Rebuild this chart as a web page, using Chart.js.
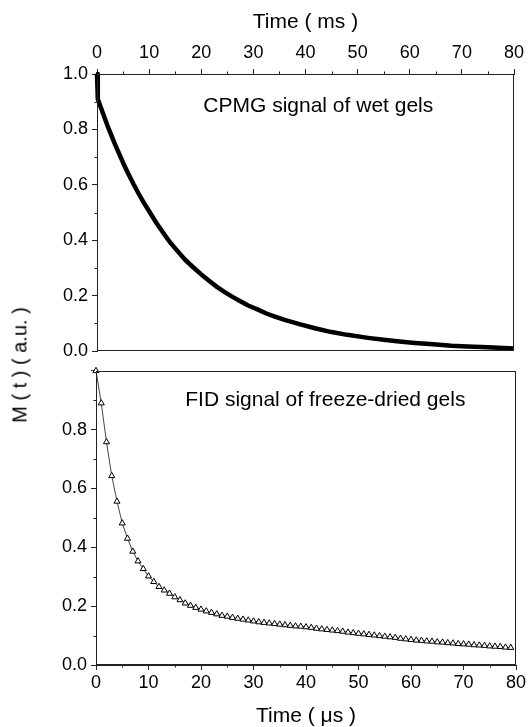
<!DOCTYPE html>
<html>
<head>
<meta charset="utf-8">
<script src="https://cdn.jsdelivr.net/npm/chart.js@4.4.0/dist/chart.umd.min.js"></script>
<style>
  body { margin: 0; width: 530px; height: 727px; background: #fff; position: relative; overflow: hidden; }
  #cTop { position: absolute; left: 0; top: 0; }
  #cBot { position: absolute; left: 0; top: 356px; }
  #ytitle { position: absolute; left: 20px; top: 365px; transform: translate(-50%, -50%) rotate(-90deg);
            font: 20px "Liberation Sans", Arial, sans-serif; white-space: nowrap; color: #000; }
</style>
</head>
<body>
<canvas id="cTop" width="530" height="366"></canvas>
<canvas id="cBot" width="530" height="371"></canvas>
<div id="ytitle">M ( t ) ( a.u. )</div>
<script>
// CPMG signal of wet gels, time in ms
var cpmgTime = [0, 0.15, 1, 2, 3.5, 5, 6, 7, 8, 9, 10, 11.5, 13, 14, 15.5, 17, 18.5, 20, 21.5, 23, 24.5, 26, 27.5, 29, 31, 32.5, 34, 36,
  39, 42, 45, 48, 52, 55, 58, 61, 64.5, 68, 71, 75, 80];
var cpmgSignal = [1.0, 0.91, 0.866, 0.814, 0.744, 0.680, 0.640, 0.603, 0.568, 0.535, 0.505, 0.460, 0.419, 0.393, 0.360, 0.328, 0.302, 0.277,
  0.254, 0.232, 0.213, 0.196, 0.180, 0.165, 0.149, 0.136, 0.126, 0.113,
  0.097, 0.082, 0.069, 0.059, 0.048, 0.041, 0.035, 0.030, 0.025, 0.020, 0.017, 0.014, 0.010];

// FID signal of freeze-dried gels, time in us
var fidTime = [0, 1, 2, 3, 4, 5, 6, 7, 8, 9, 10, 11, 12, 13, 14, 15, 16, 17, 18, 19,
  20, 21, 22, 23, 24, 25, 26, 27, 28, 29, 30, 31, 32, 33, 34, 35, 36, 37, 38, 39,
  40, 41, 42, 43, 44, 45, 46, 47, 48, 49, 50, 51, 52, 53, 54, 55, 56, 57, 58, 59,
  60, 61, 62, 63, 64, 65, 66, 67, 68, 69, 70, 71, 72, 73, 74, 75, 76, 77, 78, 79];
var fidSignal = [1.0, 0.89, 0.758, 0.643, 0.556, 0.482, 0.43, 0.386, 0.353, 0.327,
  0.302, 0.283, 0.266, 0.254, 0.243, 0.231, 0.221, 0.21, 0.202, 0.195,
  0.189, 0.183, 0.178, 0.173, 0.168, 0.165, 0.161, 0.158, 0.155, 0.152,
  0.149, 0.146, 0.144, 0.142, 0.140, 0.138, 0.136, 0.134, 0.132, 0.131,
  0.129, 0.127, 0.124, 0.122, 0.120, 0.118, 0.116, 0.114, 0.111, 0.109,
  0.107, 0.105, 0.103, 0.101, 0.099, 0.097, 0.095, 0.093, 0.090, 0.088,
  0.086, 0.084, 0.083, 0.081, 0.080, 0.078, 0.077, 0.075, 0.074, 0.072,
  0.071, 0.070, 0.068, 0.067, 0.066, 0.064, 0.063, 0.062, 0.060, 0.059];

var xTicks = [0, 10, 20, 30, 40, 50, 60, 70, 80];
var yTicks = [0, 0.2, 0.4, 0.6, 0.8, 1.0];

var FONT = "'Liberation Sans', Arial, sans-serif";
Chart.defaults.font.family = FONT;
Chart.defaults.color = '#000';

function pts(xs, ys) {
  return xs.map(function (x, i) { return { x: x, y: ys[i] }; });
}

// box around the plot area + half-length minor ticks
var frameTicks = {
  id: 'frameTicks',
  afterDraw: function (chart) {
    var a = chart.chartArea, ctx = chart.ctx;
    ctx.save();
    ctx.strokeStyle = '#222';
    ctx.lineWidth = 1;
    var l = Math.round(a.left) + 0.5, r = Math.round(a.right) - 0.5;
    var t = Math.round(a.top) + 0.5, b = Math.round(a.bottom) - 0.5;
    ctx.strokeRect(l, t, r - l, b - t);
    Object.keys(chart.scales).forEach(function (id) {
      var s = chart.scales[id];
      var step = s.options.minorStep;
      if (!step) return;
      var n = Math.round((s.max - s.min) / step);
      ctx.beginPath();
      for (var i = 1; i < n; i += 2) {
        var p = Math.round(s.getPixelForValue(s.min + i * step)) + 0.5;
        if (s.options.position === 'top') { ctx.moveTo(p, t); ctx.lineTo(p, t - 3); }
        else if (s.options.position === 'bottom') { ctx.moveTo(p, b); ctx.lineTo(p, b + 3); }
        else { ctx.moveTo(l, p); ctx.lineTo(l - 3, p); }
      }
      ctx.stroke();
    });
    ctx.restore();
  }
};

// panel caption, placed in data units
var panelText = {
  id: 'panelText',
  afterDraw: function (chart) {
    var o = chart.options.plugins.panelText;
    var ctx = chart.ctx;
    ctx.save();
    ctx.font = '21px ' + FONT;
    ctx.fillStyle = '#000';
    ctx.textBaseline = 'alphabetic';
    ctx.fillText(o.text, chart.scales.x.getPixelForValue(o.x), chart.scales.y.getPixelForValue(o.y));
    ctx.restore();
  }
};

function axisGrid() {
  return { drawOnChartArea: false, drawTicks: true, tickLength: 5, color: '#222', tickColor: '#222' };
}

var chartTop = new Chart(document.getElementById('cTop'), {
  type: 'line',
  data: {
    datasets: [{
      data: pts(cpmgTime, cpmgSignal),
      borderColor: '#000',
      borderWidth: 4.5,
      borderJoinStyle: 'round',
      pointRadius: 0,
      tension: 0,
      fill: false,
      clip: false
    }]
  },
  options: {
    responsive: false,
    animation: false,
    layout: { padding: { left: 0, right: 16, top: 0, bottom: 3 } },
    plugins: {
      legend: { display: false },
      tooltip: { enabled: false },
      panelText: { text: 'CPMG signal of wet gels', x: 20.4, y: 0.864 }
    },
    scales: {
      x: {
        type: 'linear', position: 'top', min: 0, max: 80, minorStep: 5,
        afterBuildTicks: function (s) { s.ticks = xTicks.map(function (v) { return { value: v }; }); },
        afterFit: function (s) { s.height = 74; },
        ticks: { font: { size: 18 }, padding: 5, maxRotation: 0, autoSkip: false },
        grid: axisGrid(),
        border: { color: '#222', width: 1 },
        title: { display: true, text: 'Time ( ms )', font: { size: 21, lineHeight: 1.0 }, padding: { top: 12, bottom: 0 } }
      },
      y: {
        type: 'linear', position: 'left', min: 0, max: 1.0, minorStep: 0.1,
        afterBuildTicks: function (s) { s.ticks = yTicks.map(function (v) { return { value: v }; }); },
        afterFit: function (s) { s.width = 97; },
        ticks: { font: { size: 18 }, padding: 4, callback: function (v) { return v.toFixed(1); } },
        grid: axisGrid(),
        border: { color: '#222', width: 1 }
      }
    }
  },
  plugins: [frameTicks, panelText]
});

var chartBot = new Chart(document.getElementById('cBot'), {
  type: 'line',
  data: {
    datasets: [{
      data: pts(fidTime, fidSignal),
      borderColor: '#444',
      borderWidth: 1,
      pointStyle: 'triangle',
      pointRadius: 3.5,
      pointBackgroundColor: '#fff',
      pointBorderColor: '#000',
      pointBorderWidth: 1,
      fill: false,
      clip: false
    }]
  },
  options: {
    responsive: false,
    animation: false,
    layout: { padding: { left: 0, right: 14, top: 12, bottom: 0 } },
    plugins: {
      legend: { display: false },
      tooltip: { enabled: false },
      panelText: { text: 'FID signal of freeze-dried gels', x: 17, y: 0.879 }
    },
    scales: {
      x: {
        type: 'linear', position: 'bottom', min: 0, max: 80, minorStep: 5,
        afterBuildTicks: function (s) { s.ticks = xTicks.map(function (v) { return { value: v }; }); },
        afterFit: function (s) { s.height = 62; },
        ticks: { font: { size: 18 }, padding: 2, maxRotation: 0, autoSkip: false },
        grid: axisGrid(),
        border: { color: '#222', width: 1 },
        title: { display: true, text: 'Time ( \u03bcs )', font: { size: 21, lineHeight: 1.0 }, padding: { top: 0, bottom: 0 } }
      },
      y: {
        type: 'linear', position: 'left', min: 0, max: 1.0, minorStep: 0.1,
        afterBuildTicks: function (s) { s.ticks = yTicks.map(function (v) { return { value: v }; }); },
        afterFit: function (s) { s.width = 96; },
        ticks: { font: { size: 18 }, padding: 4, callback: function (v) { return v >= 1 ? '' : v.toFixed(1); } },
        grid: axisGrid(),
        border: { color: '#222', width: 1 }
      }
    }
  },
  plugins: [frameTicks, panelText]
});
</script>
</body>
</html>
